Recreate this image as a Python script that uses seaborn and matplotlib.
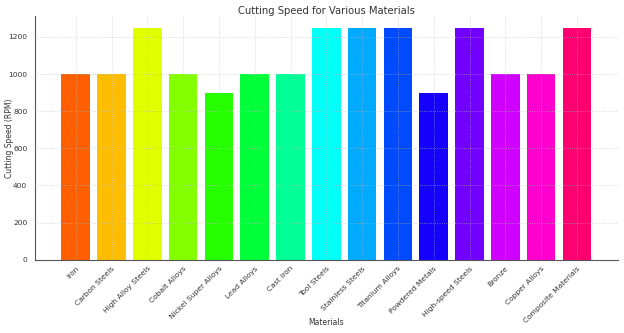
import matplotlib
matplotlib.use("Agg")
import matplotlib.pyplot as plt
import seaborn as sns
import pandas as pd

materials = ["Iron", "Carbon Steels", "High Alloy Steels", "Cobalt Alloys",
             "Nickel Super Alloys", "Lead Alloys", "Cast Iron", "Tool Steels",
             "Stainless Steels", "Titanium Alloys", "Powdered Metals",
             "High-speed Steels", "Bronze", "Copper Alloys", "Composite Materials"]
speeds = [1000, 1000, 1250, 1000, 900, 1000, 1000, 1250, 1250, 1250, 900, 1250, 1000, 1000, 1250]

df = pd.DataFrame({"Materials": materials, "Speed": speeds})
palette = sns.color_palette("hsv", len(materials))

sns.set_style("white")
plt.rcParams['font.family'] = ['DejaVu Sans']
fig, ax = plt.subplots(figsize=(6.24, 3.33), dpi=100)
sns.barplot(data=df, x="Materials", y="Speed", hue="Materials", palette=palette,
            legend=False, ax=ax, saturation=1, edgecolor="none")

n = len(materials)
span = (n - 1) + 0.8
ax.set_xlim(-0.4 - 0.05 * span, n - 1 + 0.4 + 0.05 * span)

ax.set_title("Cutting Speed for Various Materials", fontsize=7.2, color="#333333", pad=1.5)
ax.set_xlabel("Materials", fontsize=5.5, color="#333333")
ax.set_ylabel("Cutting Speed (RPM)", fontsize=5.5, color="#333333")
ax.xaxis.set_label_coords(0.5, -0.24)
ax.yaxis.set_label_coords(-0.036, 0.5)
ax.tick_params(axis="x", labelsize=5.4, colors="#333333", length=2, pad=2)
ax.tick_params(axis="y", labelsize=5.4, colors="#333333", length=2)
plt.setp(ax.get_xticklabels(), rotation=45, ha="right", rotation_mode="anchor")
ax.set_axisbelow(False)
ax.grid(True, linestyle=":", linewidth=0.6, color="#bbbbbb", alpha=0.7)
for s in ["top", "right"]:
    ax.spines[s].set_visible(False)
for s in ["left", "bottom"]:
    ax.spines[s].set_color("#555555")
    ax.spines[s].set_linewidth(0.8)

fig.subplots_adjust(left=0.056, right=0.99, top=0.952, bottom=0.22)
fig.savefig("out.png", dpi=100)
